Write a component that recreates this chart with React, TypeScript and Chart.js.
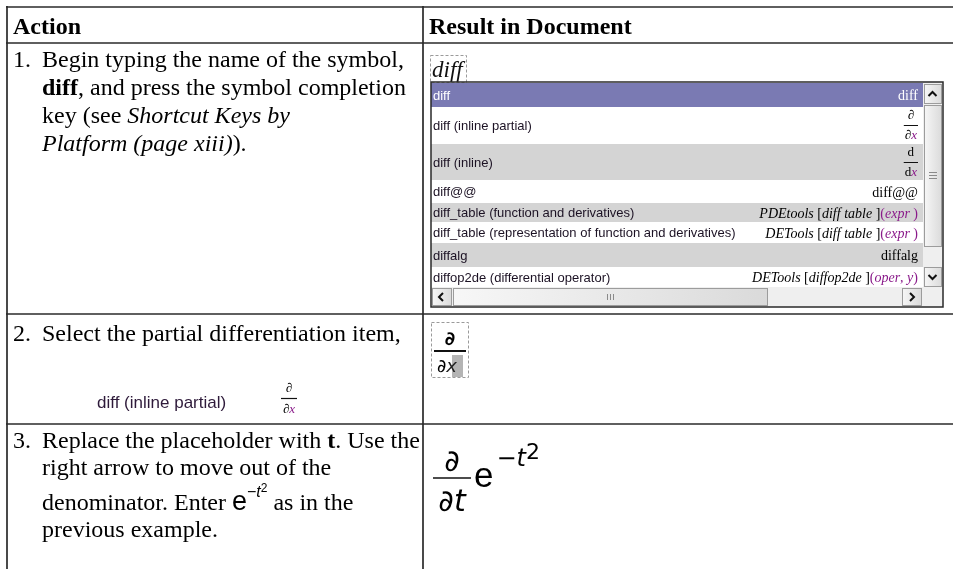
import { useEffect, useRef } from "react";
import { Chart, registerables } from "chart.js";

Chart.register(...registerables);

type Run = { t: string; s?: string };
type Frac = { num: Run[]; den: Run[] };

// ---------- data ----------
const headerLabels = ["Action", "Result in Document"];
const stepNumbers = ["1.", "2.", "3."];

const step1Lines: Run[][] = [
  [{ t: "Begin typing the name of the symbol," }],
  [{ t: "diff", s: "b" }, { t: ", and press the symbol completion" }],
  [{ t: "key (see " }, { t: "Shortcut Keys by", s: "i" }],
  [{ t: "Platform (page xiii)", s: "i" }, { t: ")." }],
];
const step2Lines: Run[][] = [[{ t: "Select the partial differentiation item," }]];
const step2SampleName = "diff (inline partial)";
const step2SampleFrac: Frac = { num: [{ t: "∂" }], den: [{ t: "∂" }, { t: "x", s: "pi" }] };
const step3Lines: Run[][] = [
  [{ t: "Replace the placeholder with " }, { t: "t", s: "b" }, { t: ". Use the" }],
  [{ t: "right arrow to move out of the" }],
  [
    { t: "denominator. Enter " },
    { t: "e", s: "me" },
    { t: "−", s: "ms" },
    { t: "t", s: "msi" },
    { t: "2", s: "ms2" },
    { t: " as in the" },
  ],
  [{ t: "previous example." }],
];

const placeholderText = "diff";
const completionNames = [
  "diff",
  "diff (inline partial)",
  "diff (inline)",
  "diff@@",
  "diff_table (function and derivatives)",
  "diff_table (representation of function and derivatives)",
  "diffalg",
  "diffop2de (differential operator)",
];
const completionResults: (Run[] | Frac)[] = [
  [{ t: "diff" }],
  { num: [{ t: "∂" }], den: [{ t: "∂" }, { t: "x", s: "pi" }] },
  { num: [{ t: "d" }], den: [{ t: "d" }, { t: "x", s: "pi" }] },
  [{ t: "diff@@" }],
  [
    { t: "PDEtools", s: "i" }, { t: " [" }, { t: "diff table", s: "i" }, { t: " ]" },
    { t: "(", s: "p" }, { t: "expr", s: "pi" }, { t: " )", s: "p" },
  ],
  [
    { t: "DETools", s: "i" }, { t: " [" }, { t: "diff table", s: "i" }, { t: " ]" },
    { t: "(", s: "p" }, { t: "expr", s: "pi" }, { t: " )", s: "p" },
  ],
  [{ t: "diffalg" }],
  [
    { t: "DETools", s: "i" }, { t: " [" }, { t: "diffop2de", s: "i" }, { t: " ]" },
    { t: "(", s: "p" }, { t: "oper", s: "pi" }, { t: ", ", s: "p" }, { t: "y", s: "pi" }, { t: ")", s: "p" },
  ],
];
const selectedIndex = 0;

const selectedNumerator: Run[] = [{ t: "∂" }];
const selectedDenominator: Run[] = [{ t: "∂" }, { t: "x", s: "hx" }];

const resultNumerator: Run[] = [{ t: "∂" }];
const resultDenominator: Run[] = [{ t: "∂" }, { t: "t", s: "i" }];
const resultBase: Run[] = [{ t: "e", s: "e" }];
const resultExponent: Run[] = [{ t: "−" }, { t: "t", s: "i" }, { t: "2", s: "two" }];

// ---------- layout & styles ----------
const W = 953;
const H = 569;
const T_LEFT = 7;
const T_TOP = 7;
const COL_X = 423;
const ROW_LINES = [7, 43, 314, 424];
const NUM_X = 13;
const TEXT_X = 42;
const STEP1_BASE = [67, 95, 123, 151];
const STEP2_BASE = [341];
const STEP3_BASE = [448, 475, 510, 537];

const POP = { l: 431, t: 82, r: 943, b: 307, sbX: 923 };
const POP_ROWS = [83, 107, 144, 180, 203, 222, 243, 267, 287];

const SERIF = '"Liberation Serif", "Times New Roman", serif';
const SANS = '"Liberation Sans", Arial, sans-serif';
const DSANS = '"DejaVu Sans", sans-serif';
const PURPLE = "#8a1a8a";

type Sty = { f: string; c?: string; dy?: number };
const BODY: Record<string, Sty> = {
  r: { f: `24px ${SERIF}` },
  b: { f: `bold 24px ${SERIF}` },
  i: { f: `italic 24px ${SERIF}` },
  me: { f: `27px ${SANS}` },
  ms: { f: `16px ${SANS}`, dy: -13 },
  msi: { f: `italic 16px ${SANS}`, dy: -13 },
  ms2: { f: `12px ${SANS}`, dy: -18 },
};
const RES: Record<string, Sty> = {
  r: { f: `14px ${SERIF}` },
  i: { f: `italic 14px ${SERIF}` },
  p: { f: `14px ${SERIF}`, c: PURPLE },
  pi: { f: `italic 14px ${SERIF}`, c: PURPLE },
};
const SMALLFRAC: Record<string, Sty> = {
  r: { f: `13px ${SERIF}` },
  pi: { f: `italic 13px ${SERIF}`, c: PURPLE },
};
const SELFRAC: Record<string, Sty> = {
  r: { f: `bold 19px ${DSANS}` },
  hx: { f: `italic 18px ${DSANS}`, c: "#222" },
};
const BIG: Record<string, Sty> = {
  r: { f: `30px ${DSANS}` },
  i: { f: `italic 30px ${DSANS}` },
  e: { f: `35px ${SANS}` },
};
const SUP: Record<string, Sty> = {
  r: { f: `24px ${DSANS}` },
  i: { f: `italic 24px ${DSANS}` },
  two: { f: `22px ${DSANS}`, dy: -7 },
};

function runsWidth(ctx: CanvasRenderingContext2D, runs: Run[], st: Record<string, Sty>) {
  let w = 0;
  for (const r of runs) {
    ctx.font = (st[r.s || "r"] || st.r).f;
    w += ctx.measureText(r.t).width;
  }
  return w;
}

function drawRuns(
  ctx: CanvasRenderingContext2D,
  x: number,
  y: number,
  runs: Run[],
  st: Record<string, Sty>,
  color = "#000"
) {
  let cx = x;
  for (const r of runs) {
    const s = st[r.s || "r"] || st.r;
    ctx.font = s.f;
    ctx.fillStyle = s.c || color;
    ctx.fillText(r.t, cx, y + (s.dy || 0));
    cx += ctx.measureText(r.t).width;
  }
  return cx;
}

const tablePlugin = {
  id: "mapleTable",
  afterDraw(chart: any) {
    const ctx: CanvasRenderingContext2D = chart.ctx;
    const xs = chart.scales.x;
    const ys = chart.scales.y;
    const X = (v: number) => xs.getPixelForValue(v);
    const Y = (v: number) => ys.getPixelForValue(v);
    ctx.save();
    ctx.textBaseline = "alphabetic";
    ctx.textAlign = "left";
    ctx.fillStyle = "#fff";
    ctx.fillRect(X(0), Y(0), X(W) - X(0), Y(H) - Y(0));

    // ---- table grid ----
    ctx.strokeStyle = "#2a2a2a";
    ctx.lineWidth = 1.7;
    for (const ry of ROW_LINES) {
      ctx.beginPath();
      ctx.moveTo(X(T_LEFT - 1), Y(ry));
      ctx.lineTo(X(W), Y(ry));
      ctx.stroke();
    }
    for (const cx of [T_LEFT, COL_X]) {
      ctx.beginPath();
      ctx.moveTo(X(cx), Y(T_TOP - 1));
      ctx.lineTo(X(cx), Y(H));
      ctx.stroke();
    }

    // ---- header ----
    ctx.fillStyle = "#000";
    ctx.font = `bold 24px ${SERIF}`;
    ctx.fillText(headerLabels[0], X(NUM_X), Y(34));
    ctx.fillText(headerLabels[1], X(COL_X + 6), Y(34));

    // ---- left column text ----
    const steps = [
      { lines: step1Lines, base: STEP1_BASE },
      { lines: step2Lines, base: STEP2_BASE },
      { lines: step3Lines, base: STEP3_BASE },
    ];
    steps.forEach((s, i) => {
      ctx.font = BODY.r.f;
      ctx.fillStyle = "#000";
      ctx.fillText(stepNumbers[i], X(NUM_X), Y(s.base[0]));
      s.lines.forEach((ln, j) => drawRuns(ctx, X(TEXT_X), Y(s.base[j]), ln, BODY));
    });

    // step 2 sample item
    ctx.font = `17px ${SANS}`;
    ctx.fillStyle = "#2e1a3a";
    ctx.fillText(step2SampleName, X(97), Y(408));
    {
      const cx = 289;
      const nw = runsWidth(ctx, step2SampleFrac.num, SMALLFRAC);
      const dw = runsWidth(ctx, step2SampleFrac.den, SMALLFRAC);
      drawRuns(ctx, X(cx - nw / 2), Y(392), step2SampleFrac.num, SMALLFRAC);
      ctx.strokeStyle = "#111";
      ctx.lineWidth = 1.2;
      ctx.beginPath();
      ctx.moveTo(X(cx - 8), Y(398.5));
      ctx.lineTo(X(cx + 8), Y(398.5));
      ctx.stroke();
      drawRuns(ctx, X(cx - dw / 2), Y(413), step2SampleFrac.den, SMALLFRAC);
    }

    // ---- row 1 right: placeholder + completion popup ----
    ctx.setLineDash([3, 2]);
    ctx.strokeStyle = "#9a9a9a";
    ctx.lineWidth = 1;
    ctx.strokeRect(X(430.5), Y(55.5), 36, 27);
    ctx.setLineDash([]);
    ctx.font = `italic 23px ${SERIF}`;
    ctx.fillStyle = "#111";
    ctx.fillText(placeholderText, X(432), Y(77));

    // popup background rows
    const listR = POP.sbX;
    for (let i = 0; i < completionNames.length; i++) {
      const top = POP_ROWS[i];
      const bot = POP_ROWS[i + 1];
      let bg = i % 2 === 1 ? "#ffffff" : "#d4d4d4";
      if (i === selectedIndex) bg = "#7a7ab3";
      ctx.fillStyle = bg;
      ctx.fillRect(X(POP.l), Y(top), X(listR) - X(POP.l), Y(bot) - Y(top));
      const mid = (top + bot) / 2;
      const txtCol = i === selectedIndex ? "#ffffff" : "#1c1224";
      ctx.font = `13px ${SANS}`;
      ctx.fillStyle = txtCol;
      ctx.fillText(completionNames[i], X(POP.l + 2), Y(mid + 4.5));
      const res = completionResults[i];
      const rx = 918;
      if (Array.isArray(res)) {
        const w = runsWidth(ctx, res, RES);
        drawRuns(ctx, X(rx - w), Y(mid + 5), res, RES, i === selectedIndex ? "#ffffff" : "#000");
      } else {
        const nw = runsWidth(ctx, res.num, SMALLFRAC);
        const dw = runsWidth(ctx, res.den, SMALLFRAC);
        const fw = Math.max(nw, dw) + 2;
        const cx = rx - fw / 2;
        drawRuns(ctx, X(cx - nw / 2), Y(top + 12), res.num, SMALLFRAC);
        ctx.strokeStyle = "#111";
        ctx.lineWidth = 1;
        ctx.beginPath();
        ctx.moveTo(X(rx - fw), Y(top + 18.5));
        ctx.lineTo(X(rx), Y(top + 18.5));
        ctx.stroke();
        drawRuns(ctx, X(cx - dw / 2), Y(top + 32), res.den, SMALLFRAC);
      }
    }

    // scrollbars
    const btn = (x0: number, y0: number, x1: number, y1: number) => {
      const g = ctx.createLinearGradient(X(x0), Y(y0), X(x1), Y(y0));
      g.addColorStop(0, "#f7f7f7");
      g.addColorStop(1, "#dadada");
      ctx.fillStyle = g;
      ctx.fillRect(X(x0), Y(y0), X(x1) - X(x0), Y(y1) - Y(y0));
      ctx.strokeStyle = "#9c9c9c";
      ctx.lineWidth = 1;
      ctx.strokeRect(X(x0) + 0.5, Y(y0) + 0.5, X(x1) - X(x0) - 1, Y(y1) - Y(y0) - 1);
    };
    const chevron = (cx: number, cy: number, dir: string) => {
      ctx.strokeStyle = "#111";
      ctx.lineWidth = 2;
      ctx.beginPath();
      if (dir === "up") { ctx.moveTo(X(cx - 4), Y(cy + 2)); ctx.lineTo(X(cx), Y(cy - 2)); ctx.lineTo(X(cx + 4), Y(cy + 2)); }
      if (dir === "down") { ctx.moveTo(X(cx - 4), Y(cy - 2)); ctx.lineTo(X(cx), Y(cy + 2)); ctx.lineTo(X(cx + 4), Y(cy - 2)); }
      if (dir === "left") { ctx.moveTo(X(cx + 2), Y(cy - 4)); ctx.lineTo(X(cx - 2), Y(cy)); ctx.lineTo(X(cx + 2), Y(cy + 4)); }
      if (dir === "right") { ctx.moveTo(X(cx - 2), Y(cy - 4)); ctx.lineTo(X(cx + 2), Y(cy)); ctx.lineTo(X(cx - 2), Y(cy + 4)); }
      ctx.stroke();
    };
    // vertical
    ctx.fillStyle = "#efefef";
    ctx.fillRect(X(POP.sbX), Y(POP.t), X(POP.r) - X(POP.sbX), Y(POP.b) - Y(POP.t));
    btn(POP.sbX + 1, 84, POP.r - 1, 104);
    chevron(932.5, 94, "up");
    btn(POP.sbX + 1, 105, POP.r - 1, 247);
    ctx.strokeStyle = "#8a8a8a";
    ctx.lineWidth = 1;
    for (const gy of [172.5, 175.5, 178.5]) {
      ctx.beginPath();
      ctx.moveTo(X(929), Y(gy));
      ctx.lineTo(X(937), Y(gy));
      ctx.stroke();
    }
    btn(POP.sbX + 1, 267, POP.r - 1, 287);
    chevron(932.5, 277, "down");
    // horizontal
    ctx.fillStyle = "#efefef";
    ctx.fillRect(X(POP.l), Y(287), X(POP.sbX) - X(POP.l), Y(POP.b) - Y(287));
    btn(POP.l + 1, 288, 452, 306);
    chevron(441, 297, "left");
    btn(453, 288, 768, 306);
    ctx.strokeStyle = "#8a8a8a";
    for (const gx of [607.5, 610.5, 613.5]) {
      ctx.beginPath();
      ctx.moveTo(X(gx), Y(294));
      ctx.lineTo(X(gx), Y(300));
      ctx.stroke();
    }
    btn(902, 288, POP.sbX - 1, 306);
    chevron(912, 297, "right");

    // popup border
    ctx.strokeStyle = "#2a2a2a";
    ctx.lineWidth = 1.5;
    ctx.strokeRect(X(POP.l), Y(POP.t), X(POP.r) - X(POP.l), Y(POP.b) - Y(POP.t));

    // ---- row 2 right: selected template ----
    ctx.setLineDash([3, 2]);
    ctx.strokeStyle = "#9a9a9a";
    ctx.lineWidth = 1;
    ctx.strokeRect(X(431.5), Y(322.5), 37, 55);
    ctx.setLineDash([]);
    {
      const cx = 450;
      const nw = runsWidth(ctx, selectedNumerator, SELFRAC);
      drawRuns(ctx, X(cx - nw / 2), Y(345), selectedNumerator, SELFRAC);
      ctx.strokeStyle = "#111";
      ctx.lineWidth = 2;
      ctx.beginPath();
      ctx.moveTo(X(434), Y(351));
      ctx.lineTo(X(466), Y(351));
      ctx.stroke();
      ctx.fillStyle = "#b4b4b4";
      ctx.fillRect(X(452), Y(355), 11, 22);
      drawRuns(ctx, X(437), Y(372), selectedDenominator, { r: { f: `18px ${DSANS}` }, hx: SELFRAC.hx });
    }

    // ---- row 3 right: big expression ----
    {
      const cx = 452;
      const nw = runsWidth(ctx, resultNumerator, BIG);
      const dw = runsWidth(ctx, resultDenominator, BIG);
      drawRuns(ctx, X(cx - nw / 2), Y(471), resultNumerator, BIG);
      ctx.strokeStyle = "#111";
      ctx.lineWidth = 1.5;
      ctx.beginPath();
      ctx.moveTo(X(433), Y(478));
      ctx.lineTo(X(471), Y(478));
      ctx.stroke();
      drawRuns(ctx, X(cx - dw / 2), Y(511), resultDenominator, BIG);
      const ex = drawRuns(ctx, X(474), Y(487), resultBase, BIG);
      drawRuns(ctx, ex + 3, Y(466), resultExponent, SUP);
    }

    ctx.restore();
  },
};

export default function App() {
  const ref = useRef<HTMLCanvasElement>(null);
  useEffect(() => {
    const canvas = ref.current;
    if (!canvas) return;
    const chart = new Chart(canvas, {
      type: "scatter",
      data: { datasets: [] },
      options: {
        animation: false,
        responsive: false,
        events: [],
        layout: { padding: 0 },
        plugins: { legend: { display: false }, tooltip: { enabled: false } },
        scales: {
          x: { type: "linear", min: 0, max: W, display: false },
          y: { type: "linear", min: 0, max: H, reverse: true, display: false },
        },
      },
      plugins: [tablePlugin],
    } as any);
    return () => chart.destroy();
  }, []);
  return (
    <canvas
      ref={ref}
      width={W}
      height={H}
      style={{ position: "fixed", left: 0, top: 0, display: "block", width: W, height: H }}
    />
  );
}
